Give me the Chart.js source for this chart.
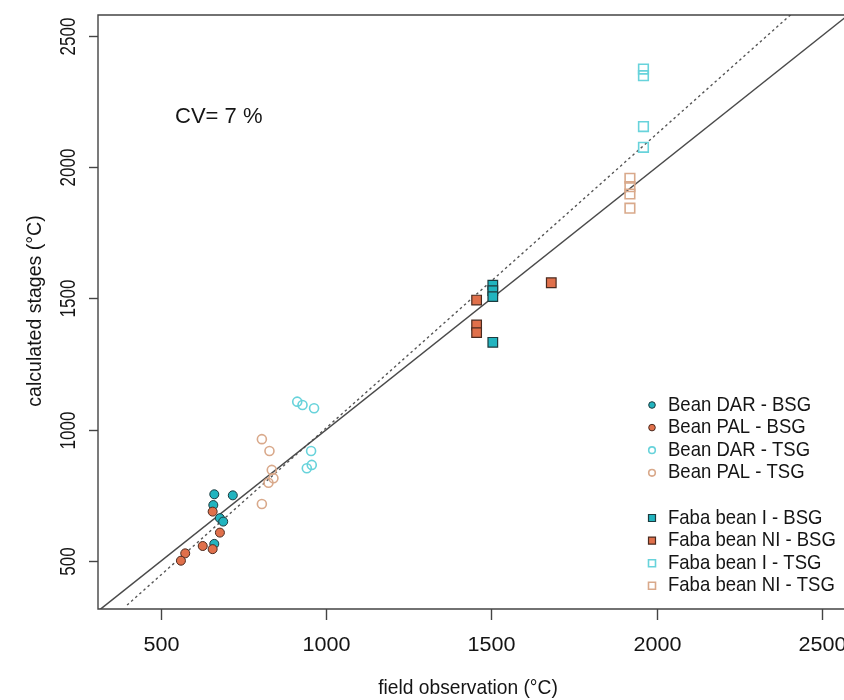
<!DOCTYPE html>
<html>
<head>
<meta charset="utf-8">
<script src="https://cdn.jsdelivr.net/npm/chart.js@4.4.1/dist/chart.umd.min.js"></script>
<style>
  html, body { margin: 0; padding: 0; background: #fff; }
  #c { display: block; }
</style>
</head>
<body>
<canvas id="c" width="844" height="700" style="width:844px;height:700px"></canvas>
<script>
/* observed vs calculated thermal time, R-style scatter */
const X_MIN = 309, X_MAX = 2567, Y_MIN = 317, Y_MAX = 2580;
const xTicks = [500, 1000, 1500, 2000, 2500];
const yTicks = [500, 1000, 1500, 2000, 2500];

const beanDarBsgX = [661, 717, 658, 678, 688, 661];
const beanDarBsgY = [754, 750, 713, 663, 650, 565];
const beanPalBsgX = [656, 678, 626, 656, 573, 560];
const beanPalBsgY = [688, 608, 557, 545, 529, 501];
const beanDarTsgX = [912, 928, 963, 954, 956, 941];
const beanDarTsgY = [1107, 1094, 1082, 919, 866, 853];
const beanPalTsgX = [805, 828, 835, 840, 825, 805];
const beanPalTsgY = [964, 919, 847, 815, 798, 717];
const fabaIBsgX = [1504, 1504, 1504, 1504];
const fabaIBsgY = [1551, 1530, 1507, 1333];
const fabaNiBsgX = [1455, 1455, 1455, 1681];
const fabaNiBsgY = [1494, 1399, 1370, 1560];
const fabaITsgX = [1960, 1960, 1960, 1960];
const fabaITsgY = [2374, 2349, 2155, 2076];
const fabaNiTsgX = [1919, 1919, 1919, 1919];
const fabaNiTsgY = [1958, 1926, 1898, 1844];

// 1:1 line and fitted regression line (end points)
const oneToOneX = [300, 2600];
const oneToOneY = [300, 2600];
const fitX = [397, 2420];
const fitY = [332, 2597];

const TEAL = "#22b4bf", ORANGE = "#e0704b", TEAL_LT = "#68d3db", PEACH = "#d9a98b";
const INK = "#151515";

const pts = (xs, ys) => xs.map((x, i) => ({ x, y: ys[i] }));

const series = [
  { label: "Bean DAR - BSG", data: pts(beanDarBsgX, beanDarBsgY), pointStyle: "circle", pointRadius: 4.5, pointBackgroundColor: TEAL, pointBorderColor: "#1d3a3e", pointBorderWidth: 1, order: 3 },
  { label: "Bean PAL - BSG", data: pts(beanPalBsgX, beanPalBsgY), pointStyle: "circle", pointRadius: 4.5, pointBackgroundColor: ORANGE, pointBorderColor: "#4a2a1f", pointBorderWidth: 1, order: 2 },
  { label: "Bean DAR - TSG", data: pts(beanDarTsgX, beanDarTsgY), pointStyle: "circle", pointRadius: 4.5, pointBackgroundColor: "rgba(0,0,0,0)", pointBorderColor: TEAL_LT, pointBorderWidth: 1.6, order: 4 },
  { label: "Bean PAL - TSG", data: pts(beanPalTsgX, beanPalTsgY), pointStyle: "circle", pointRadius: 4.5, pointBackgroundColor: "rgba(0,0,0,0)", pointBorderColor: PEACH, pointBorderWidth: 1.6, order: 5 },
  { label: "Faba bean I - BSG", data: pts(fabaIBsgX, fabaIBsgY), pointStyle: "rect", pointRadius: 6.8, pointBackgroundColor: TEAL, pointBorderColor: "#1d3a3e", pointBorderWidth: 1.2, order: 2 },
  { label: "Faba bean NI - BSG", data: pts(fabaNiBsgX, fabaNiBsgY), pointStyle: "rect", pointRadius: 6.8, pointBackgroundColor: ORANGE, pointBorderColor: "#4a2a1f", pointBorderWidth: 1.2, order: 2 },
  { label: "Faba bean I - TSG", data: pts(fabaITsgX, fabaITsgY), pointStyle: "rect", pointRadius: 6.8, pointBackgroundColor: "rgba(0,0,0,0)", pointBorderColor: TEAL_LT, pointBorderWidth: 1.6, order: 4 },
  { label: "Faba bean NI - TSG", data: pts(fabaNiTsgX, fabaNiTsgY), pointStyle: "rect", pointRadius: 6.8, pointBackgroundColor: "rgba(0,0,0,0)", pointBorderColor: PEACH, pointBorderWidth: 1.6, order: 5 },
];

// the source image is stretched unevenly, so text gets its own scale
// sw: along the text, sh: across it
function txt(ctx, s, x, y, size, rot, align, sw, sh) {
  ctx.save();
  ctx.translate(x, y);
  if (rot) ctx.rotate(rot);
  ctx.scale(sw, sh);
  ctx.font = size + "px 'Liberation Sans', Arial, sans-serif";
  ctx.textAlign = align || "center";
  ctx.textBaseline = "middle";
  ctx.fillText(s, 0, 0);
  ctx.restore();
}

const RFrame = {
  id: "rFrame",
  afterDraw(chart) {
    const { ctx, chartArea: a, scales } = chart;
    const sx = scales.x, sy = scales.y;
    ctx.save();
    ctx.strokeStyle = "#444";
    ctx.lineWidth = 1.4;
    ctx.beginPath();
    ctx.moveTo(a.right, a.top); ctx.lineTo(a.left, a.top);
    ctx.lineTo(a.left, a.bottom); ctx.lineTo(a.right, a.bottom);
    ctx.stroke();
    ctx.fillStyle = INK;
    xTicks.forEach(v => {
      const px = Math.round(sx.getPixelForValue(v)) + 0.5;
      ctx.beginPath(); ctx.moveTo(px, a.bottom); ctx.lineTo(px, a.bottom + 11); ctx.stroke();
      txt(ctx, String(v), px, 645, 17, 0, "center", 1.27, 1.22);
    });
    yTicks.forEach(v => {
      const py = Math.round(sy.getPixelForValue(v)) + 0.5;
      ctx.beginPath(); ctx.moveTo(a.left, py); ctx.lineTo(a.left - 9, py); ctx.stroke();
      txt(ctx, String(v), 69, py, 17, -Math.PI / 2, "center", 1.0, 1.35);
    });
    txt(ctx, "field observation (°C)", 468, 688, 17, 0, "center", 1.13, 1.22);
    txt(ctx, "calculated stages (°C)", 35, 311, 17, -Math.PI / 2, "center", 1.15, 1.22);
    txt(ctx, "CV= 7 %", 175, 117, 19, 0, "left", 1.16, 1.15);

    // legend with a blank row between the two groups
    const rows = [0, 1, 2, 3, 5, 6, 7, 8];
    series.forEach((s, i) => {
      const y = 405 + rows[i] * 22.6;
      const x = 652;
      ctx.save();
      ctx.fillStyle = s.pointBackgroundColor;
      ctx.strokeStyle = s.pointBorderColor;
      ctx.lineWidth = s.pointBorderWidth;
      ctx.beginPath();
      if (s.pointStyle === "circle") ctx.arc(x, y, 3.3, 0, Math.PI * 2);
      else ctx.rect(x - 3.5, y - 3.5, 7, 7);
      ctx.fill(); ctx.stroke();
      ctx.restore();
      ctx.fillStyle = INK;
      txt(ctx, s.label, 668, y, 17, 0, "left", 1.09, 1.18);
    });
    ctx.restore();
  },
};

new Chart(document.getElementById("c"), {
  type: "scatter",
  data: {
    datasets: [
      ...series.map(s => ({ ...s, showLine: false })),
      { label: "1:1", data: pts(oneToOneX, oneToOneY), showLine: true, pointRadius: 0, borderColor: "#4a4a4a", borderWidth: 1.5, order: 10 },
      { label: "fit", data: pts(fitX, fitY), showLine: true, pointRadius: 0, borderColor: "#555", borderWidth: 1.4, borderDash: [2.5, 3], order: 11 },
    ],
  },
  options: {
    responsive: false,
    animation: false,
    layout: { autoPadding: false, padding: { left: 98, top: 15, right: 0, bottom: 91 } },
    scales: {
      x: { type: "linear", display: false, min: X_MIN, max: X_MAX },
      y: { type: "linear", display: false, min: Y_MIN, max: Y_MAX },
    },
    plugins: { legend: { display: false }, tooltip: { enabled: false } },
  },
  plugins: [RFrame],
});
</script>
</body>
</html>
